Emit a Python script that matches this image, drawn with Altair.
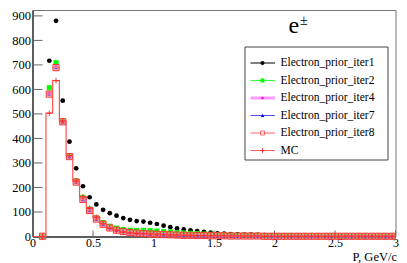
import altair as alt
import numpy as np
import pandas as pd

# ---------------- data ----------------
n_bins = 54
x_min, x_max = 0.0, 3.0
y_top = 924

y_ticks = [0, 100, 200, 300, 400, 500, 600, 700, 800, 900]
x_ticks = [0, 0.5, 1, 1.5, 2, 2.5, 3]

# bin contents for bins 1..53 (bin 0 empty / not drawn)
iter1 = [1, 717, 880, 554, 387, 278, 205, 160, 131, 109, 95, 85, 75, 68, 63,
         61, 56, 51, 44, 38, 33, 29, 25, 22, 19, 16, 13, 12, 10, 9, 8, 8, 7, 6,
         5, 5, 4, 4, 3, 3, 3, 2, 2, 2, 2, 1, 1, 1, 1, 1, 1, 1, 1]
iter2 = [1, 607, 709, 472, 330, 227, 160, 112, 76, 57, 42, 34, 29, 26, 25,
         25, 24, 22, 20, 18, 16, 14, 13, 12, 10, 9, 8, 7, 6, 5, 5, 4, 4, 4,
         3, 3, 3, 3, 2, 2, 2, 2, 2, 2, 1, 1, 1, 1, 1, 1, 1, 1, 1]
iter4 = [1, 585, 692, 469, 327, 224, 152, 107, 72, 51, 36, 27, 21, 17, 15,
         13, 11, 10, 9, 8, 7, 6, 5, 5, 4, 4, 3, 3, 3, 2, 2, 2, 2, 2, 2,
         1, 1, 1, 1, 1, 1, 1, 1, 1, 1, 1, 1, 1, 1, 1, 1, 1, 1]
iter7 = [1, 582, 690, 468, 326, 223, 151, 106, 71, 50, 35, 26, 20, 16, 14,
         12, 10, 9, 8, 7, 6, 5, 5, 4, 4, 3, 3, 3, 2, 2, 2, 2, 2,
         1, 1, 1, 1, 1, 1, 1, 1, 1, 1, 1, 1, 1, 1, 1, 1, 1, 1, 1, 1]
iter8 = [1, 581, 689, 468, 326, 222, 151, 106, 71, 50, 35, 26, 20, 16, 14,
         12, 10, 9, 8, 7, 6, 5, 5, 4, 4, 3, 3, 3, 2, 2, 2, 2, 2,
         1, 1, 1, 1, 1, 1, 1, 1, 1, 1, 1, 1, 1, 1, 1, 1, 1, 1, 1, 1]
mc = [0, 503, 636, 471, 330, 226, 162, 115, 78, 52, 34, 25, 18, 15, 13,
      11, 10, 9, 8, 7, 6, 5, 5, 4, 4, 3, 3, 3, 2, 2, 2, 2, 2,
      1, 1, 1, 1, 1, 1, 1, 1, 1, 1, 1, 1, 1, 1, 1, 1, 1, 1, 1, 1]

names = ["Electron_prior_iter1", "Electron_prior_iter2", "Electron_prior_iter4",
         "Electron_prior_iter7", "Electron_prior_iter8", "MC"]

# ---------------- derived tables ----------------
edges = np.linspace(x_min, x_max, n_bins + 1)
centers = 0.5 * (edges[:-1] + edges[1:])
bw = edges[1] - edges[0]
xc = centers[1:]


def table(vals, half=0.36):
    return pd.DataFrame({"x": xc, "y": vals, "xlo": xc - half * bw, "xhi": xc + half * bw})


W, H = 363, 226.5
FONT = "Liberation Serif"
xs = alt.Scale(domain=[x_min, x_max], nice=False, zero=False)
ys = alt.Scale(domain=[0, y_top], nice=False)

AY = alt.Axis(values=y_ticks, ticks=False, grid=False, format="d",
              domainColor="black", domainWidth=1,
              labelFont=FONT, labelFontSize=12.5, labelColor="black",
              labelPadding=2, title=None)
AX = alt.Axis(values=x_ticks, ticks=False, grid=False, format="~g",
              domainColor="black", domainWidth=1, labelFlush=False,
              labelFont=FONT, labelFontSize=12, labelColor="black",
              labelPadding=1, title="P, GeV/c", titleAnchor="end",
              titleX=W + 1, titleY=24, titleAlign="right", titleBaseline="alphabetic",
              titleFont=FONT, titleFontSize=12.5, titleFontWeight="normal",
              titleColor="black")

# ---------------- inward ticks ----------------
yt = alt.Chart(pd.DataFrame({"v": y_ticks})).mark_rule(color="#666666", strokeWidth=1).encode(
    y=alt.Y("v:Q", scale=ys, axis=AY), x=alt.value(0), x2=alt.value(10))

xt = alt.Chart(pd.DataFrame({"v": x_ticks})).mark_rule(color="#666666", strokeWidth=1).encode(
    x=alt.X("v:Q", scale=xs, axis=AX), y=alt.value(H), y2=alt.value(H - 6))


def errbar(df, color, width=1):
    return alt.Chart(df).mark_rule(color=color, strokeWidth=width).encode(
        x=alt.X("xlo:Q", scale=xs, axis=AX), x2="xhi:Q",
        y=alt.Y("y:Q", scale=ys, axis=AY))


def pts(df, **kw):
    return alt.Chart(df).mark_point(**kw).encode(
        x=alt.X("x:Q", scale=xs, axis=AX), y=alt.Y("y:Q", scale=ys, axis=AY))


PLUS = "M-1,0L1,0M0,-1L0,1"

d1, d2, d4, d7, d8 = table(iter1), table(iter2), table(iter4), table(iter7), table(iter8)
dmc = table(mc)

layers = [yt, xt]
layers += [errbar(d1, "#8c8cdc"),
           pts(d1, shape="circle", filled=True, color="black", size=22, opacity=1)]
layers += [errbar(d2, "#66ff66"),
           pts(d2, shape="square", filled=True, color="#00ff00", size=26, opacity=1)]
layers += [errbar(d4, "#ff80ff", 2),
           pts(d4, shape="circle", filled=True, color="#ff00ff", size=9, opacity=1)]
layers += [errbar(d7, "#6666ff"),
           pts(d7, shape="triangle-up", filled=True, color="#0000ff", size=20, opacity=1)]
layers += [errbar(d8, "#ff7070"),
           pts(d8, shape="square", filled=True, fill="#ff9a9a", fillOpacity=0.55,
               stroke="#ff3030", strokeWidth=1, size=38)]
step_df = pd.DataFrame({"x": edges, "y": [0] + mc + [mc[-1]]})
layers += [alt.Chart(step_df).mark_line(interpolate="step-after", color="#ff5050", strokeWidth=1.2).encode(
    x=alt.X("x:Q", scale=xs, axis=AX), y=alt.Y("y:Q", scale=ys, axis=AY)),
    pts(dmc, shape=PLUS, filled=False, color="#ff3030", strokeWidth=1, size=30, opacity=1)]

# ---------------- legend ----------------
one = pd.DataFrame({"a": [0]})
layers.append(alt.Chart(one).mark_rect(fill="white", stroke="#444444", strokeWidth=1).encode(
    x=alt.value(212.5), x2=alt.value(355.5), y=alt.value(37), y2=alt.value(150)))

leg_style = [
    ("black", 1, dict(shape="circle", filled=True, color="black", size=16, opacity=1)),
    ("#33ff33", 1, dict(shape="square", filled=True, color="#00ff00", size=16, opacity=1)),
    ("#ff99ff", 3, dict(shape="circle", filled=True, color="#ff00ff", size=7, opacity=1)),
    ("#4d4dff", 1, dict(shape="triangle-up", filled=True, color="#0000ff", size=14, opacity=1)),
    ("#ff6060", 1, dict(shape="square", filled=True, fill="white", stroke="#ff3030", strokeWidth=1, size=16)),
    ("#ff6060", 1, dict(shape=PLUS, filled=False, color="#ff3030", strokeWidth=1, size=22, opacity=1)),
]
row_y = [53, 70.5, 88, 105.5, 123, 140.5]
for name, ly, (lc, lw, mk) in zip(names, row_y, leg_style):
    ndf = pd.DataFrame({"name": [name]})
    layers.append(alt.Chart(ndf).mark_rule(color=lc, strokeWidth=lw).encode(
        x=alt.value(218), x2=alt.value(242.5), y=alt.value(ly)))
    layers.append(alt.Chart(ndf).mark_point(**mk).encode(x=alt.value(230), y=alt.value(ly)))
    layers.append(alt.Chart(ndf).mark_text(font=FONT, fontSize=11.5, align="left", baseline="middle",
                                           color="black").encode(
        x=alt.value(248), y=alt.value(ly), text="name:N"))

# ---------------- e± label ----------------
layers.append(alt.Chart(pd.DataFrame({"t": ["e"]})).mark_text(
    font=FONT, fontSize=24, align="left", baseline="alphabetic", color="black").encode(
    x=alt.value(256), y=alt.value(23), text="t:N"))
layers.append(alt.Chart(pd.DataFrame({"t": ["±"]})).mark_text(
    font=FONT, fontSize=14, align="left", baseline="alphabetic", color="black").encode(
    x=alt.value(267.5), y=alt.value(15), text="t:N"))

chart = alt.layer(*layers).properties(
    width=W, height=H,
    padding={"left": 24.5, "top": 2, "right": 3, "bottom": 26},
    autosize=alt.AutoSizeParams(type="none"),
    background="white",
).configure_view(stroke="#777777", strokeWidth=1)

chart.save("out.html", embed_options={"renderer": "svg", "actions": False})
